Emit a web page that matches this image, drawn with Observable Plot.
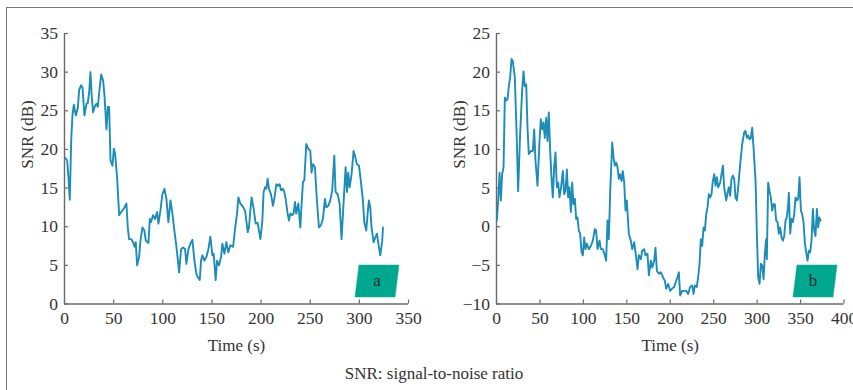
<!DOCTYPE html>
<html><head><meta charset="utf-8">
<script src="https://cdn.jsdelivr.net/npm/d3@7"></script>
<script src="https://cdn.jsdelivr.net/npm/@observablehq/plot@0.6"></script>
<style>
html,body{margin:0;padding:0;background:#fff;}
#wrap{position:relative;width:853px;height:390px;overflow:hidden;font-family:"Liberation Serif",serif;color:#333;}
#border{position:absolute;left:6px;top:7px;width:900px;height:500px;border-top:1.5px solid #7a7a7a;border-left:1.5px solid #7a7a7a;}
#pa{position:absolute;left:0;top:0;}
#pb{position:absolute;left:426px;top:0;}
.tag{position:absolute;top:265px;width:39.5px;height:32px;background:#00a88f;transform:skewX(-7deg);box-shadow:0 0 0 0.6px #8fd6c8;}
.tagtxt{position:absolute;top:265px;width:40px;height:32px;line-height:32px;text-align:center;font-size:17px;color:#2a2a2a;}
#caption{position:absolute;left:0;width:868px;top:364px;text-align:center;font-size:17px;color:#333;}
</style>
</head><body>
<div id="wrap">
  <div id="border"></div>
  <div id="pa"></div>
  <div id="pb"></div>
  <div class="tag" style="left:357px"></div><div class="tagtxt" style="left:357px">a</div>
  <div class="tag" style="left:795px"></div><div class="tagtxt" style="left:793px">b</div>
  <div id="caption">SNR: signal-to-noise ratio</div>
</div>
<script>
// Panel a
const timeA = [0.7,2.7,4,5.4,6.8,8.1,9.5,11.5,13.6,14.9,16.9,18.3,20.3,22.4,23.7,25.1,26.4,27.8,29.1,31.2,32.5,33.9,35.2,37.3,39.3,40.7,42.7,44.1,45.4,46.8,48.8,50.2,51.5,53.5,55.6,57.6,60.3,63,64.4,65.7,67.8,69.8,71.2,72.5,73.9,75.9,77.3,79.3,81.3,82.7,85.4,86.8,88.1,90.1,92.2,94.2,95.6,97.6,99.6,101.7,103.7,105.7,107.8,109.8,111.8,113.9,116.6,118.6,120.6,122.7,124,126.1,128.1,130.1,132.2,134.2,135.5,137.6,138.9,140.3,142.3,144.4,146.4,148.4,150.5,151.8,153.8,155.2,157.2,159.3,160.6,162.7,164.7,166.7,168.8,171.5,173.5,175.5,176.9,178.9,180.9,183.7,185,186.4,187.7,189.1,190.4,192.5,194.5,196.5,199.3,201.3,202.6,204,205.3,206.7,208,210.1,212.1,214.2,215.5,217.5,218.9,220.3,222.3,223.6,225,227,228.4,229.7,231.8,233.1,234.5,235.8,237.9,239.9,241.3,242.6,244,246,248,250.1,251.4,252.8,254.8,256.8,258.9,260.9,262.9,265,266.3,268.4,270.4,272.4,274.5,275.8,277.9,279.9,281.9,284,286,287.4,288.7,290.1,292.1,294.1,295.5,297.5,299.6,301.6,303.6,305,307,308.4,309.7,311.1,312.4,314.5,316.5,317.9,319.9,321.3,323.3,324];
const snrA = [18.9,18.6,16.4,13.5,21.1,24.4,25.8,24.4,25.4,27.7,28.3,28,24.4,25.9,26,27.4,30,26.7,24.8,25.7,25.9,25.5,27.2,29.7,28.9,26.9,22.6,25.5,25.5,18.6,17.9,20.1,19.4,16.4,11.5,11.9,12.3,13,9.9,8.4,8.4,8,7.4,8,5,6.1,8.2,9.9,9.5,8.2,7.9,11,10.6,11.5,11,11.9,10.4,12.1,14.2,14.9,13.6,10.6,13.4,11.7,9.5,7.4,4.1,7.1,7.3,7.1,5.2,7.1,7.8,8.3,5.6,3.9,3.5,3.1,5.6,6.3,5.6,6.1,7.1,8.7,6.3,6.5,3.1,5.6,5,6.1,7.8,6.5,8,6.7,7.6,7.4,9.7,11.7,13.8,13,12.7,12.1,10.8,9.3,9.9,12.1,13.8,12.3,10.4,10.5,8.4,10.8,14.5,15.1,14.9,16.2,14.9,14.2,12.7,14.2,15.5,15.3,15.5,14.7,14.9,14.5,13.6,11.7,10.8,11.7,11.5,11.7,13.2,11.7,13,9.9,13,15.8,16,20.7,20.1,19.8,17,18.1,17.7,13.4,9.9,10.2,11,13.6,12.5,12.7,13.4,14.7,19.2,14.5,14.2,13,8.4,13.2,17.7,14.5,17,15.1,16.8,19.8,19.2,18.1,17.9,15.8,13.4,10.6,9.5,11.7,13.4,12.5,9.9,8,8.7,9.1,7.4,6.3,8.2,9.9];
const xTicksA = [0,50,100,150,200,250,300,350];
const yTicksA = [0,5,10,15,20,25,30,35];

// Panel b
const timeB = [0.4,1.9,3.5,5,6.5,8.1,9.6,11.1,12.7,14.2,15.7,17.3,18.8,21.1,23.4,24.9,27.2,29.5,31.1,32.6,34.2,35.7,37.2,39.5,41.8,43.4,44.9,47.2,49.5,51,52.6,54.1,55.6,57.2,58.7,60.2,61.8,63.3,64.8,66.4,67.9,69.5,71,72.5,74.1,76.4,77.9,79.4,81,82.5,84,85.6,87.1,88.6,90.2,91.7,93.2,94.8,96.3,97.9,99.4,100.9,102.5,104,106.3,108.6,110.9,113.2,114.7,116.3,118.6,120.1,122.4,124.7,126.2,127.8,129.3,130.9,133.2,134.7,136.2,137.8,139.3,140.8,142.4,143.9,145.4,147,148.5,150,152.3,154.6,156.2,158.5,160.8,162.3,163.9,166.2,167.7,170,171.5,173.8,175.4,177.7,179.2,181.5,183,184.6,186.9,189.2,191.5,193.8,195.3,197.6,199.9,202.2,204.5,206.8,208.4,209.9,211.4,213.7,216,218.4,220.6,222.9,225.3,226.8,228.3,230.6,232.1,233.7,235.2,236.8,238.3,239.8,241.4,242.9,244.4,246,247.5,249,250.6,252.1,253.6,255.2,257.5,259,260.6,262.1,264.4,266,267.5,269,270.5,272.1,273.6,275.1,276.7,278.2,280.5,282.8,285.1,286.6,288.2,289.7,291.3,292.8,294.3,295.9,298.2,299.7,301.2,302.8,304.3,305.8,307.4,308.9,310.4,311.2,312.7,314.3,315.8,317.3,318.9,320.4,321.9,323.5,325,326.5,328.1,329.6,331.2,332.7,334.2,335.8,336.5,338.1,339.6,341.1,342.7,344.2,345.8,347.3,348.8,350.4,351.9,353.4,355,356.5,358,359.6,361.1,362.6,364.2,365.7,367.2,368.8,370.3,371.8,373];
const snrB = [0.8,3.4,7,3.4,6.8,7.7,16.7,16.3,16.5,18.2,19.3,21.7,21.4,19.3,11.1,4.6,12,17.6,20.1,18.2,18.4,12.8,9.4,9.8,9.8,12.6,8.5,5.3,11.1,13.9,12.6,13.5,11.5,14.1,11.1,14.8,9.8,6.4,3.8,7.7,9.6,5.1,5.7,3.8,4.9,7.2,4.2,4.6,7.4,3.8,5.1,1.9,5.7,2.9,3.6,1,1.2,-0.5,-0.9,-3.3,-3.7,-1.4,-2.9,-2.2,-2.9,-2.5,-1.8,-0.3,-0.5,-2.9,-1.8,-2.9,-2.9,-3.7,-4.4,0.8,-1.6,4.6,10.9,9,7.9,8.3,7.7,6.2,6.8,5.9,7.2,5.7,2.1,3.4,-0.9,-1.8,-2.9,-2,-4,-5.5,-3.7,-4.2,-3.1,-2.9,-3.7,-3.5,-6.3,-4.4,-5.3,-4.4,-2.7,-5.7,-6.1,-5.9,-6.5,-7,-8,-7.4,-8.3,-8,-7.8,-7,-6.5,-5.9,-8.9,-8.3,-8.3,-8.3,-8.7,-7.8,-7.6,-8.7,-7.6,-7.8,-6.5,-4.8,-1.6,-2.5,-0.1,-0.5,1.6,2.5,4.2,3.8,4.2,5.9,6.8,5.3,6.4,5.1,5.7,6.8,7.9,5.1,3.4,4.4,5.1,4,6.2,6.6,6.2,3.8,3.4,5.1,8.1,10.7,12.2,12.4,11.5,11.8,11.3,11.5,12.8,10.2,5.9,-0.9,-6.5,-7.4,-4.8,-5,-6.8,-3.5,-1.6,-4.2,5.7,4.6,3.8,2.1,2.9,2.9,0.8,0.6,-0.9,-0.1,-1.4,-1.8,-1.2,0.8,1.2,2.9,4.4,-0.9,1,0.6,1.6,3.8,3.4,3.6,6.4,2.1,1.6,0.6,-2.2,-3.3,-4.4,-3.1,-3.3,-1.8,2.3,-0.5,-1.2,2.3,-0.1,1.2,0.8];
const xTicksB = [0,50,100,150,200,250,300,350,400];
const yTicksB = [-10,-5,0,5,10,15,20,25];

const LINE = "#1b8db8";
const AXIS = "#6a6a6a";
const fmt = d => d < 0 ? "\u2212" + Math.abs(d) : String(d);

function panel({t, v, xTicks, yTicks, width, marginLeft, marginRight}) {
  const H = 360, mT = 33, mB = 56.5;
  const data = t.map((d, i) => ({t: d, v: v[i]}));
  const innerW = width - marginLeft - marginRight;
  const innerH = H - mT - mB;
  const xd = [xTicks[0], xTicks[xTicks.length - 1]];
  const yd = [yTicks[0], yTicks[yTicks.length - 1]];
  return Plot.plot({
    width, height: H, marginLeft, marginRight, marginTop: mT, marginBottom: mB,
    style: {fontFamily: "'Liberation Serif', serif", fontSize: "17.5px", color: "#333", background: "transparent", overflow: "visible"},
    x: {domain: xd},
    y: {domain: yd},
    marks: [
      Plot.axisX(xTicks, {tickSize: 0, tickPadding: 8, tickFormat: fmt, label: null, fill: "#333"}),
      Plot.axisY(yTicks, {tickSize: 0, tickPadding: 6.5, tickFormat: fmt, label: null, fill: "#333"}),
      Plot.tickX(xTicks, {x: d => d, stroke: AXIS, strokeWidth: 1.2, insetTop: innerH - 4}),
      Plot.tickY(yTicks, {y: d => d, stroke: AXIS, strokeWidth: 1.2, insetRight: innerW - 4}),
      Plot.ruleX([xd[0]], {stroke: AXIS, strokeWidth: 1.4}),
      Plot.ruleY([yd[0]], {stroke: AXIS, strokeWidth: 1.4}),
      Plot.line(data, {x: "t", y: "v", stroke: LINE, strokeWidth: 1.9, strokeLinejoin: "round"}),
      Plot.text(["SNR (dB)"], {frameAnchor: "left", dx: -37, rotate: -90, fontSize: 17, fill: "#333"}),
      Plot.text(["Time (s)"], {frameAnchor: "bottom", dy: 47, fontSize: 17, fill: "#333"})
    ]
  });
}

document.getElementById("pa").append(panel({t: timeA, v: snrA, xTicks: xTicksA, yTicks: yTicksA, width: 426, marginLeft: 64, marginRight: 18}));
document.getElementById("pb").append(panel({t: timeB, v: snrB, xTicks: xTicksB, yTicks: yTicksB, width: 427, marginLeft: 70, marginRight: 9.5}));
</script>
</body></html>
